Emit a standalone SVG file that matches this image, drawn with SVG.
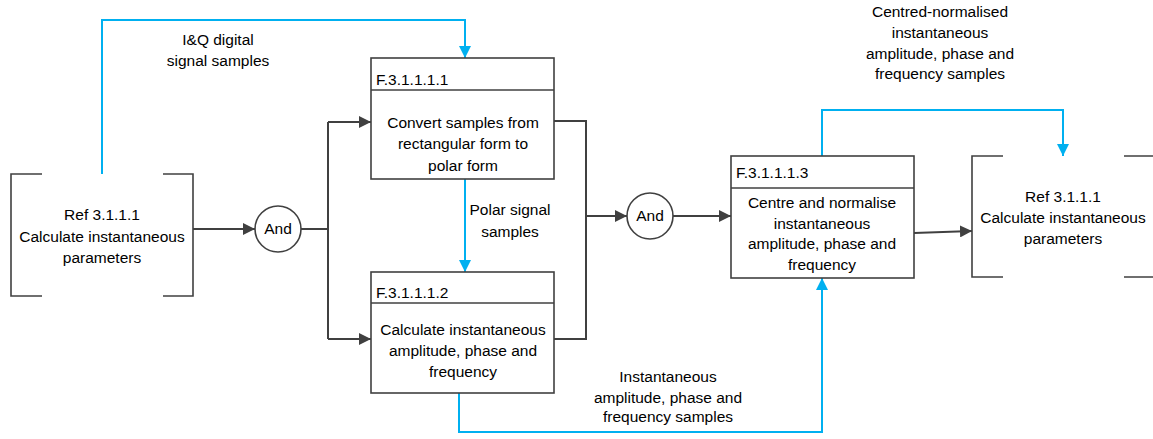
<svg xmlns="http://www.w3.org/2000/svg" width="1153" height="439" viewBox="0 0 1153 439">
<style>
text{font-family:"Liberation Sans",Arial,sans-serif;font-size:15.5px;fill:#000}
.c{text-anchor:middle}
.box{fill:#fff;stroke:#404040;stroke-width:1.6}
.br{fill:none;stroke:#404040;stroke-width:1.6}
.dk{fill:none;stroke:#404040;stroke-width:2}
.bl{fill:none;stroke:#00B0F0;stroke-width:2}
</style>
<defs>
<marker id="ad" viewBox="0 0 10 10" refX="10" refY="5" markerWidth="6" markerHeight="6" markerUnits="strokeWidth" orient="auto"><path d="M0,0L10,5L0,10z" fill="#404040"/></marker>
<marker id="ab" viewBox="0 0 10 10" refX="10" refY="5" markerWidth="6" markerHeight="6" markerUnits="strokeWidth" orient="auto"><path d="M0,0L10,5L0,10z" fill="#00B0F0"/></marker>
</defs>
<g id="connectors">
<path class="dk" d="M193,229H255" marker-end="url(#ad)"/>
<path class="dk" d="M301,229H328"/>
<path class="dk" d="M328,122V339"/>
<path class="dk" d="M328,122H371" marker-end="url(#ad)"/>
<path class="dk" d="M328,339H371" marker-end="url(#ad)"/>
<path class="dk" d="M554,121H586V339H554"/>
<path class="dk" d="M586,216H627" marker-end="url(#ad)"/>
<path class="dk" d="M673,216H731" marker-end="url(#ad)"/>
<path class="dk" d="M914,233L972,231" marker-end="url(#ad)"/>
<path class="bl" d="M102,174V20H465V58" marker-end="url(#ab)"/>
<path class="bl" d="M465,179V272" marker-end="url(#ab)"/>
<path class="bl" d="M459,393V432H822V278" marker-end="url(#ab)"/>
<path class="bl" d="M822,156V110H1063V156" marker-end="url(#ab)"/>
<text class="c" x="218" y="45">I&amp;Q digital</text>
<text class="c" x="218" y="66">signal samples</text>
<text class="c" x="510" y="215">Polar signal</text>
<text class="c" x="510" y="237">samples</text>
<text class="c" x="668" y="382">Instantaneous</text>
<text class="c" x="668" y="403">amplitude, phase and</text>
<text class="c" x="668" y="422">frequency samples</text>
<text class="c" x="940" y="17">Centred-normalised</text>
<text class="c" x="940" y="38">instantaneous</text>
<text class="c" x="940" y="59">amplitude, phase and</text>
<text class="c" x="940" y="79">frequency samples</text>
</g>
<g id="ref-left">
<path class="br" d="M42,174H11V296H42M163,174H193V296H163"/>
<text class="c" x="102" y="220">Ref 3.1.1.1</text>
<text class="c" x="102" y="241.5">Calculate instantaneous</text>
<text class="c" x="102" y="263">parameters</text>
</g>
<g id="and1">
<circle cx="278" cy="229" r="23" class="box"/>
<text class="c" x="278" y="234">And</text>
</g>
<g id="f31111">
<rect class="box" x="371" y="58" width="183" height="121"/>
<path class="br" d="M371,90H554"/>
<text x="376" y="85">F.3.1.1.1.1</text>
<text class="c" x="463" y="128">Convert samples from</text>
<text class="c" x="463" y="149">rectangular form to</text>
<text class="c" x="463" y="171">polar form</text>
</g>
<g id="f31112">
<rect class="box" x="371" y="272" width="183" height="121"/>
<path class="br" d="M371,303H554"/>
<text x="376" y="298">F.3.1.1.1.2</text>
<text class="c" x="463" y="335">Calculate instantaneous</text>
<text class="c" x="463" y="356">amplitude, phase and</text>
<text class="c" x="463" y="377">frequency</text>
</g>
<g id="and2">
<circle cx="650" cy="216" r="23" class="box"/>
<text class="c" x="650" y="221">And</text>
</g>
<g id="f31113">
<rect class="box" x="731" y="156" width="183" height="122"/>
<path class="br" d="M731,188H914"/>
<text x="736" y="178">F.3.1.1.1.3</text>
<text class="c" x="822" y="208">Centre and normalise</text>
<text class="c" x="822" y="229">instantaneous</text>
<text class="c" x="822" y="249">amplitude, phase and</text>
<text class="c" x="822" y="270">frequency</text>
</g>
<g id="ref-right">
<path class="br" d="M1003,156H972V277H1003M1124,156H1155M1124,277H1155"/>
<text class="c" x="1063" y="202">Ref 3.1.1.1</text>
<text class="c" x="1063" y="223">Calculate instantaneous</text>
<text class="c" x="1063" y="244">parameters</text>
</g>
</svg>
